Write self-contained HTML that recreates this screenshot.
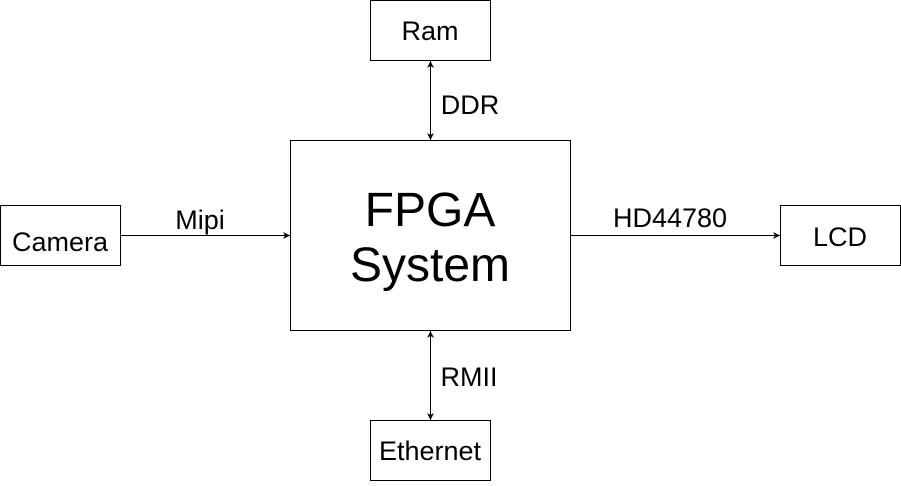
<!DOCTYPE html>
<html><head><style>html,body{margin:0;padding:0;background:#fff}</style></head>
<body>
<svg width="901" height="481" xmlns="http://www.w3.org/2000/svg" font-family="Liberation Sans, sans-serif">
<defs>
<marker id="a" markerWidth="8" markerHeight="8" refX="7" refY="4" orient="auto-start-reverse" markerUnits="userSpaceOnUse">
<path d="M0,0.5 L7,4 L0,7.5 L2,4 Z" fill="#000"/>
</marker>
</defs>
<g fill="#fff" stroke="#000" stroke-width="1">
<rect x="370.5" y="0.5" width="120" height="60"/>
<rect x="290.5" y="140.5" width="280" height="190"/>
<rect x="0.5" y="205.5" width="120" height="60"/>
<rect x="780.5" y="205.5" width="120" height="60"/>
<rect x="370.5" y="420.5" width="120" height="60"/>
</g>
<g stroke="#000" stroke-width="1" fill="none">
<line x1="430.5" y1="61" x2="430.5" y2="140" marker-start="url(#a)" marker-end="url(#a)"/>
<line x1="430.5" y1="331" x2="430.5" y2="420" marker-start="url(#a)" marker-end="url(#a)"/>
<line x1="121" y1="235.5" x2="290" y2="235.5" marker-end="url(#a)"/>
<line x1="571" y1="235.5" x2="780" y2="235.5" marker-end="url(#a)"/>
</g>
<g font-size="27" fill="#000" text-anchor="middle">
<text x="430" y="40">Ram</text>
<text x="60" y="251">Camera</text>
<text x="840" y="246">LCD</text>
<text x="430" y="460">Ethernet</text>
<text x="470" y="114">DDR</text>
<text x="200" y="229">Mipi</text>
<text x="670" y="227">HD44780</text>
<text x="469" y="386">RMII</text>
<text x="430" y="226" font-size="48">FPGA</text>
<text x="430" y="281" font-size="48">System</text>
</g>
</svg>
</body></html>
